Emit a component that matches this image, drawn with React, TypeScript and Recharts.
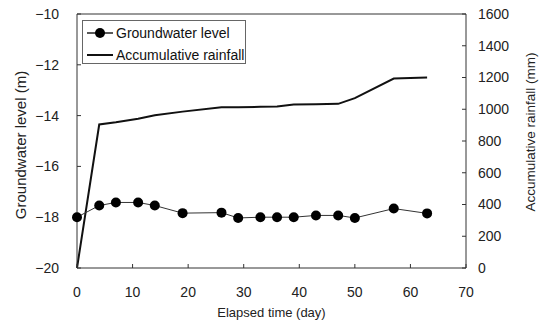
import React from 'react';
import { ComposedChart, Line, XAxis, YAxis, Legend, ReferenceLine } from 'recharts';

const days = [0, 4, 7, 11, 14, 19, 26, 29, 33, 36, 39, 43, 47, 50, 57, 63];
const groundwater = [-18.0, -17.54, -17.42, -17.42, -17.54, -17.84, -17.82, -18.03, -18.0, -18.0, -18.0, -17.93, -17.93, -18.03, -17.66, -17.85];
const rainfall = [0, 904, 918, 940, 962, 985, 1012, 1013, 1015, 1018, 1030, 1032, 1034, 1070, 1193, 1200];

const xTicks = [0, 10, 20, 30, 40, 50, 60, 70];
const leftTicks = [-20, -18, -16, -14, -12, -10];
const rightTicks = [0, 200, 400, 600, 800, 1000, 1200, 1400, 1600];

const data = days.map((d, i) => ({ day: d, gw: groundwater[i], rain: rainfall[i] }));

const FONT = '"Liberation Sans", Arial, sans-serif';
const AXIS = '#333';
const TEXT = '#222';

const fmtLeft = (v: number) => (v < 0 ? '\u2212' + Math.abs(v) : String(v));

const LeftLabel = (props: any) => {
  const vb = props.viewBox || {};
  const cx = vb.x + 20;
  const cy = vb.y + vb.height / 2 + 4;
  return (
    <text x={cx} y={cy} transform={`rotate(-90, ${cx}, ${cy})`} textAnchor="middle" dominantBaseline="central" fontSize={15} fill={TEXT} fontFamily={FONT}>
      Groundwater level (m)
    </text>
  );
};

const RightLabel = (props: any) => {
  const vb = props.viewBox || {};
  const cx = vb.x + vb.width - 14;
  const cy = vb.y + vb.height / 2 - 9;
  return (
    <text x={cx} y={cy} transform={`rotate(-90, ${cx}, ${cy})`} textAnchor="middle" dominantBaseline="central" fontSize={13.5} fill={TEXT} fontFamily={FONT}>
      Accumulative rainfall (mm)
    </text>
  );
};

const LegendContent = () => (
  <div style={{ border: '1px solid #666', width: 162, height: 42, background: '#fff', fontFamily: FONT }}>
    <svg width={162} height={42} style={{ display: 'block' }}>
      <line x1={4} x2={30} y1={12} y2={12} stroke="#222" strokeWidth={1.5} />
      <circle cx={17} cy={12} r={5} fill="#000" />
      <text x={33} y={12} dy="0.35em" fontSize={14} fill="#111" fontFamily={FONT}>Groundwater level</text>
      <line x1={4} x2={30} y1={34} y2={34} stroke="#111" strokeWidth={2} />
      <text x={33} y={34} dy="0.35em" fontSize={14} fill="#111" fontFamily={FONT}>Accumulative rainfall</text>
    </svg>
  </div>
);

export default function App() {
  return (
    <div style={{ position: 'absolute', left: 0, top: 0, background: '#fff' }}>
      <ComposedChart width={544} height={324} data={data} margin={{ top: 14, right: 0, bottom: 0, left: 0 }}>
        <XAxis
          dataKey="day"
          type="number"
          domain={[0, 70]}
          ticks={xTicks}
          height={56}
          tickSize={-4}
          tickMargin={23}
          stroke={AXIS}
          tick={{ fill: TEXT, fontSize: 14, fontFamily: FONT }}
          label={{ value: 'Elapsed time (day)', position: 'insideBottom', offset: 7, fill: TEXT, fontSize: 13, fontFamily: FONT }}
        />
        <YAxis
          yAxisId="left"
          orientation="left"
          domain={[-20, -10]}
          ticks={leftTicks}
          width={77}
          tickSize={-4}
          tickMargin={22}
          stroke={AXIS}
          tickFormatter={fmtLeft}
          tick={{ fill: TEXT, fontSize: 14, fontFamily: FONT }}
          label={{ content: <LeftLabel /> }}
        />
        <YAxis
          yAxisId="right"
          orientation="right"
          domain={[0, 1600]}
          ticks={rightTicks}
          width={78}
          tickSize={-4}
          tickMargin={16}
          stroke={AXIS}
          tick={{ fill: TEXT, fontSize: 14, fontFamily: FONT, textAnchor: 'start' }}
          label={{ content: <RightLabel /> }}
        />
        <ReferenceLine yAxisId="left" y={-10} stroke={AXIS} strokeWidth={1} ifOverflow="visible" />
        <Legend
          layout="vertical"
          align="center"
          verticalAlign="middle"
          content={<LegendContent />}
          wrapperStyle={{ left: 82, top: 20, right: 'auto', bottom: 'auto', width: 164, height: 44 }}
        />
        <Line
          yAxisId="right"
          dataKey="rain"
          type="linear"
          stroke="#111"
          strokeWidth={2}
          dot={false}
          isAnimationActive={false}
        />
        <Line
          yAxisId="left"
          dataKey="gw"
          type="linear"
          stroke="#333"
          strokeWidth={1}
          dot={{ r: 5, fill: '#000', stroke: '#000', strokeWidth: 0 }}
          isAnimationActive={false}
        />
      </ComposedChart>
    </div>
  );
}
